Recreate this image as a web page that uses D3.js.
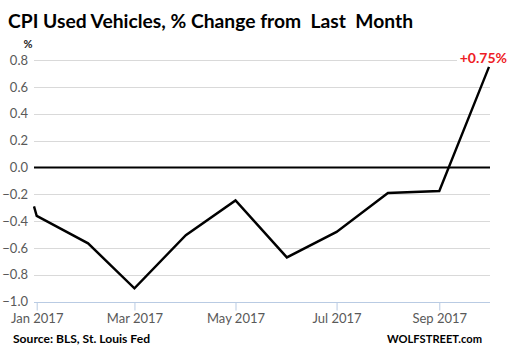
<!DOCTYPE html>
<html>
<head>
<meta charset="utf-8">
<script src="https://cdn.jsdelivr.net/npm/d3@7"></script>
<style>
  body { margin: 0; background: #fff; }
  svg { display: block; font-family: Lato, "Open Sans", sans-serif; }
</style>
</head>
<body>
<div id="chart"></div>
<script>
// CPI used vehicles, month-over-month % change
const dates = ["2016-12-29", "2017-01-01", "2017-02-01", "2017-03-01", "2017-04-01", "2017-05-01",
               "2017-06-01", "2017-07-01", "2017-08-01", "2017-09-01", "2017-10-01"];
const values = [-0.29, -0.36, -0.565, -0.90, -0.505, -0.245, -0.67, -0.48, -0.19, -0.175, 0.75];
const yTicks = [0.8, 0.6, 0.4, 0.2, 0.0, -0.2, -0.4, -0.6, -0.8, -1.0];
const xTicks = ["2017-01-01", "2017-03-01", "2017-05-01", "2017-07-01", "2017-09-01"];

const width = 510, height = 353;
const parse = d3.timeParse("%Y-%m-%d");
const data = dates.map((d, i) => ({ date: parse(d), value: values[i] }));

const x = d3.scaleTime()
    .domain([parse("2017-01-01"), parse("2017-10-01")])
    .range([36.7, 489]);

const y = d3.scaleLinear()
    .domain([-1.0, 0.8])
    .range([301.7, 60.2]);

const svg = d3.select("#chart").append("svg")
    .attr("width", width)
    .attr("height", height);

// title
svg.append("text")
    .attr("x", 8)
    .attr("y", 28)
    .attr("font-size", 19)
    .attr("font-weight", "bold")
    .attr("fill", "#000")
    .attr("textLength", 405)
    .attr("lengthAdjust", "spacingAndGlyphs")
    .style("white-space", "pre")
    .text("CPI Used Vehicles, % Change from  Last  Month");

svg.append("text")
    .attr("x", 28)
    .attr("y", 48)
    .attr("text-anchor", "middle")
    .attr("font-size", 11)
    .attr("font-weight", "bold")
    .attr("fill", "#222")
    .text("%");

// grid
svg.append("g")
    .selectAll("line")
    .data(yTicks.filter(d => d !== 0 && d !== -1.0))
    .enter().append("line")
    .attr("x1", 34)
    .attr("x2", 490)
    .attr("y1", d => Math.round(y(d)) + 0.5)
    .attr("y2", d => Math.round(y(d)) + 0.5)
    .attr("stroke", "#d9d9d9")
    .attr("stroke-width", 1);

// y labels
svg.append("g")
    .selectAll("text")
    .data(yTicks)
    .enter().append("text")
    .attr("x", 28)
    .attr("y", d => y(d) + 4.5)
    .attr("text-anchor", "end")
    .attr("font-size", 13)
    .attr("fill", "#595959")
    .text(d => d3.format(".1f")(d));

// x axis
const xAxis = d3.axisBottom(x)
    .tickValues(xTicks.map(parse))
    .tickSize(8)
    .tickPadding(3)
    .tickFormat(d3.timeFormat("%b %Y"));

const gx = svg.append("g")
    .attr("transform", "translate(0," + 302.5 + ")")
    .call(xAxis);
gx.select(".domain").remove();
gx.append("line")
    .attr("x1", 34)
    .attr("x2", 490)
    .attr("stroke", "#b9cbe3")
    .attr("stroke-width", 1);
gx.selectAll(".tick line").attr("stroke", "#b9cbe3");
gx.selectAll(".tick text")
    .attr("font-family", "Lato, sans-serif")
    .attr("font-size", 13)
    .attr("fill", "#595959");

// zero line
svg.append("line")
    .attr("x1", 34)
    .attr("x2", 490)
    .attr("y1", y(0))
    .attr("y2", y(0))
    .attr("stroke", "#000")
    .attr("stroke-width", 2);

// series line
const line = d3.line()
    .x(d => Math.max(34, x(d.date)))
    .y(d => y(d.value));

svg.append("path")
    .datum(data)
    .attr("d", line)
    .attr("fill", "none")
    .attr("stroke", "#000")
    .attr("stroke-width", 2.4)
    .attr("stroke-linejoin", "miter");

// last value label
const last = data[data.length - 1];
svg.append("rect")
    .attr("x", 457)
    .attr("y", 50)
    .attr("width", 53)
    .attr("height", 16)
    .attr("fill", "#fff");
svg.append("text")
    .attr("x", 507)
    .attr("y", 63)
    .attr("text-anchor", "end")
    .attr("font-size", 14)
    .attr("font-weight", "bold")
    .attr("fill", "#ee1c25")
    .text("+" + d3.format(".2f")(last.value) + "%");

// footer
svg.append("text")
    .attr("x", 13)
    .attr("y", 343)
    .attr("font-size", 12)
    .attr("font-weight", "bold")
    .attr("fill", "#000")
    .attr("textLength", 137)
    .attr("lengthAdjust", "spacingAndGlyphs")
    .text("Source: BLS, St. Louis Fed");

svg.append("text")
    .attr("x", 387)
    .attr("y", 343)
    .attr("font-size", 12)
    .attr("font-weight", "bold")
    .attr("fill", "#000")
    .attr("textLength", 95)
    .attr("lengthAdjust", "spacingAndGlyphs")
    .text("WOLFSTREET.com");
</script>
</body>
</html>
